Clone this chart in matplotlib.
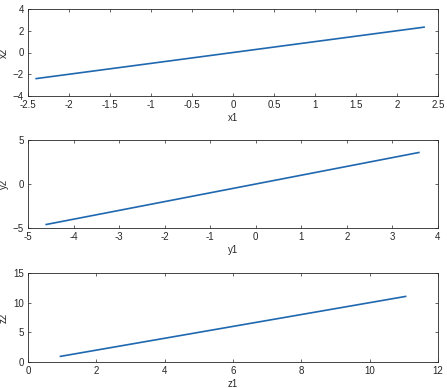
import matplotlib
matplotlib.use("Agg")
import matplotlib.pyplot as plt

# endpoints (each pair lies on the identity line)
x1 = [-2.40, 2.33]
x2 = [-2.40, 2.33]
y1 = [-4.60, 3.58]
y2 = [-4.60, 3.58]
z1 = [0.95, 11.05]
z2 = [0.95, 11.05]

panels = [
    (x1, x2, "x1", "x2", (-2.5, 2.5), (-4, 4),
     [-2.5, -2, -1.5, -1, -0.5, 0, 0.5, 1, 1.5, 2, 2.5], [-4, -2, 0, 2, 4]),
    (y1, y2, "y1", "y2", (-5, 4), (-5, 5),
     [-5, -4, -3, -2, -1, 0, 1, 2, 3, 4], [-5, 0, 5]),
    (z1, z2, "z1", "z2", (0, 12), (0, 15),
     [0, 2, 4, 6, 8, 10, 12], [0, 5, 10, 15]),
]

# axes boxes in figure fractions (left, bottom, width, height)
boxes = [
    (28 / 447, 1 - 96 / 388, 410 / 447, 87 / 388),
    (28 / 447, 1 - 228 / 388, 410 / 447, 88 / 388),
    (28 / 447, 1 - 362 / 388, 410 / 447, 89 / 388),
]

plt.rcParams["font.family"] = ["Liberation Sans", "DejaVu Sans"]
plt.rcParams["font.size"] = 7

fig = plt.figure(figsize=(4.47, 3.88), dpi=100)

for (xs, ys, xl, yl, xlim, ylim, xt, yt), box in zip(panels, boxes):
    ax = fig.add_axes(box)
    ax.plot(xs, ys, color="#1f68b0", linewidth=1.2)
    ax.set_xlim(*xlim)
    ax.set_ylim(*ylim)
    ax.set_xticks(xt)
    ax.set_xticklabels([f"{v:g}" for v in xt])
    ax.set_yticks(yt)
    ax.set_xlabel(xl, color="#262626", labelpad=2)
    ax.set_ylabel(yl, color="#262626", labelpad=3)
    ax.tick_params(direction="in", top=True, right=True, length=2.5,
                   width=0.5, colors="#262626", labelsize=7)
    ax.tick_params(axis="x", pad=3)
    ax.tick_params(axis="y", pad=3)
    for s in ax.spines.values():
        s.set_linewidth(0.6)
        s.set_color("#262626")

fig.savefig("out.png", dpi=100)
